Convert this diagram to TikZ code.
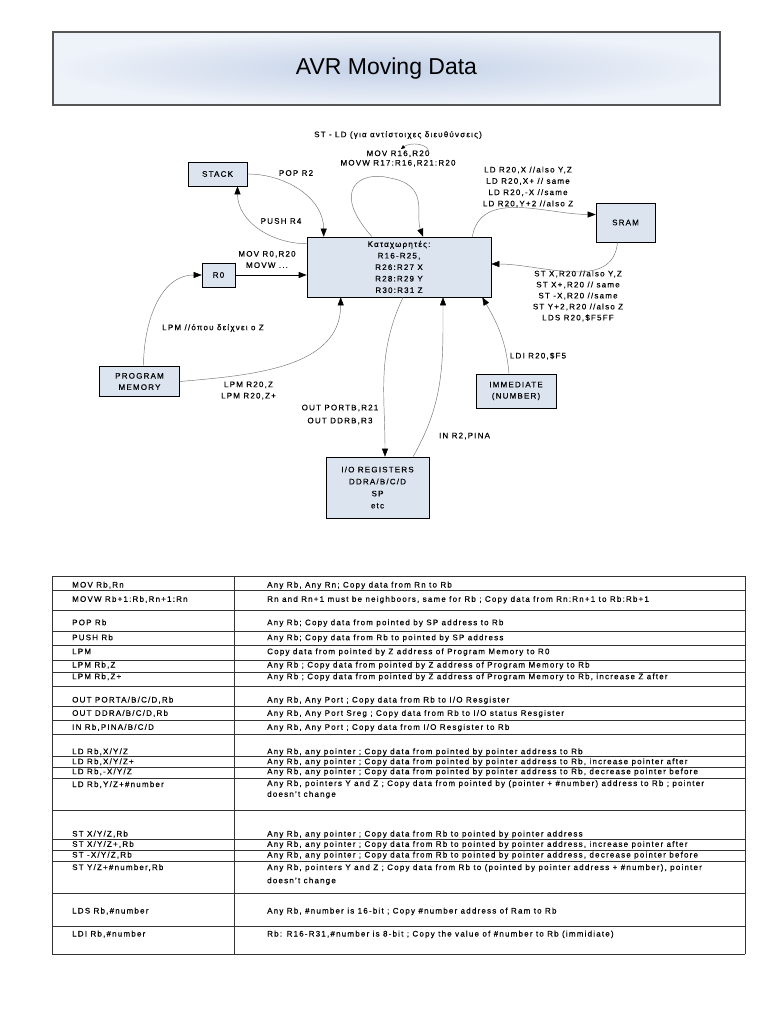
\documentclass[tikz,border=0pt]{standalone}
\usepackage{fontspec}
\setmainfont{Liberation Sans}[LetterSpace=15,FakeBold=0.35]
\newfontfamily\titlefont{Liberation Sans}
\usetikzlibrary{arrows.meta}
\definecolor{boxfill}{HTML}{DCE4F0}
\definecolor{titlein}{HTML}{C3D1E7}
\definecolor{titleout}{HTML}{EEF2F9}
\definecolor{frame}{HTML}{555555}
\newcommand{\lblfont}{\fontsize{8}{11.3}\selectfont}

\begin{document}
\begin{tikzpicture}[x=1pt,y=1pt,
    box/.style={draw=black,fill=boxfill,line width=0.6pt,inner sep=0pt,
        align=center,font=\lblfont},
    lbl/.style={inner sep=0pt,align=center,font=\lblfont},
    flow/.style={draw=black!55,line width=0.45pt,
        -{Triangle[length=8pt,width=6pt,color=black]}},
    tline/.style={draw=black!80,line width=0.75pt},
    cell/.style={anchor=base west,inner sep=0pt,font=\fontsize{8}{9}\selectfont}
]
\fill[white] (0,0) rectangle (768,-1024);
\useasboundingbox (0,0) rectangle (768,-1024);

% title
\node[draw=frame,line width=1.2pt,inner color=titlein,outer color=titleout,
    minimum width=667pt,minimum height=73pt,
    font=\titlefont\fontsize{23}{26}\selectfont] (title) at (386.5,-68.5)
    {AVR Moving Data};

% blocks
\node[box,minimum width=59pt,minimum height=24pt] (stack) at (217.5,-174) {STACK};
\node[box,minimum width=184pt,minimum height=60pt,font=\fontsize{8}{11.5}\selectfont]
    (regs) at (399,-267)
    {Καταχωρητές:\\R16-R25,\\R26:R27 X\\R28:R29 Y\\R30:R31 Z};
\node[box,minimum width=59pt,minimum height=39pt] (sram) at (625.5,-222.5) {SRAM};
\node[box,minimum width=33pt,minimum height=24pt] (r0) at (218.5,-275) {R0};
\node[box,minimum width=80pt,minimum height=30pt] (progmem) at (139.5,-381.5)
    {PROGRAM\\MEMORY};
\node[box,minimum width=80pt,minimum height=34pt] (imm) at (516,-391)
    {IMMEDIATE\\(NUMBER)};
\node[box,minimum width=103pt,minimum height=61pt,font=\fontsize{8}{12}\selectfont]
    (io) at (377.5,-487.5) {I/O REGISTERS\\DDRA/B/C/D\\SP\\etc};

% labels
\node[lbl] (stld) at (398,-135) {ST - LD (για αντίστοιχες διευθύνσεις)};
\node[lbl,font=\fontsize{8}{9.5}\selectfont] (movlbl) at (398,-158.5)
    {MOV R16,R20\\MOVW R17:R16,R21:R20};
\node[lbl] (poplbl) at (296,-173) {POP R2};
\node[lbl] (pushlbl) at (281,-221) {PUSH R4};
\node[lbl] (movr0lbl) at (267,-259.5) {MOV R0,R20\\MOVW ...};
\node[lbl] (ldlbl) at (528,-187)
    {LD R20,X //also Y,Z\\LD R20,X+ // same\\LD R20,-X //same\\LD R20,Y+2 //also Z};
\node[lbl,font=\fontsize{8}{11}\selectfont] (stlbl) at (578,-296)
    {ST X,R20 //also Y,Z\\ST X+,R20 // same\\ST -X,R20 //same\\ST Y+2,R20 //also Z\\LDS R20,\$F5FF};
\node[lbl] (lpmlbl) at (213,-328) {LPM //όπου δείχνει ο Z};
\node[lbl] (lpmzlbl) at (248.5,-390.5) {LPM R20,Z\\LPM R20,Z+};
\node[lbl,font=\fontsize{8}{13}\selectfont] (outlbl) at (340,-414.5)
    {OUT PORTB,R21\\OUT DDRB,R3};
\node[lbl] (inlbl) at (464.5,-436) {IN R2,PINA};
\node[lbl] (ldilbl) at (538,-356) {LDI R20,\$F5};

% connectors
\draw[flow] (stack.east) to[out=0,in=90] ([xshift=17pt]regs.north west);
\draw[flow] ([yshift=-7pt]regs.north west) to[out=180,in=-90] ([xshift=20pt]stack.south);
\draw[flow] ([xshift=-27pt]regs.north) .. controls (330,-190) and (360,-170) .. (390,-178)
    .. controls (430,-185) and (415,-215) .. ([xshift=24pt]regs.north);
\coordinate (arcA) at (429,-153);
\coordinate (arcB) at (401,-149);
\draw[flow,-{Triangle[length=4pt,width=3.5pt,color=black]}]
    (arcA) .. controls (429,-143) and (410,-142) .. (arcB);
\draw[flow] ([xshift=-19pt]regs.north east) to[out=80,in=180] ([yshift=8pt]sram.west);
\draw[flow] ([xshift=-8pt]sram.south) to[out=-95,in=0] ([yshift=3pt]regs.east);
\draw[line width=1pt,-{Triangle[length=8pt,width=6pt]}] (r0.east) -- (r0.east -| regs.west);
\draw[flow] ([xshift=4pt]progmem.north) to[out=90,in=180] (r0.west);
\draw[flow] (progmem.east) to[out=5,in=-90] ([xshift=34pt]regs.south west);
\draw[flow] ([xshift=4pt]regs.south) to[out=-115,in=90] ([xshift=7.5pt]io.north);
\draw[flow] ([xshift=35.5pt]io.north) to[out=60,in=-90] ([xshift=44pt]regs.south);
\draw[flow] ([xshift=-7pt]imm.north) to[out=95,in=-60] ([xshift=-9pt]regs.south east);

% table grid
\foreach \y in {576,590.7,610,631,645,660,672.3,686,706.7,720.7,734.3,756.7,
    767.3,778.3,810,839,850,861,893.3,926.7,954}
    \draw[tline] (52,-\y) -- (745,-\y);
\foreach \x in {52,234,745}
    \draw[tline] (\x,-576) -- (\x,-954);

% table text
\foreach \y/\txt [count=\i] in {587.5/{MOV Rb,Rn},601.8/{MOVW Rb+1:Rb,Rn+1:Rn},
    625.2/{POP Rb},640.2/{PUSH Rb},654.2/{LPM},667.5/{LPM Rb,Z},679.2/{LPM Rb,Z+},
    702.5/{OUT PORTA/B/C/D,Rb},715.8/{OUT DDRA/B/C/D,Rb},729.8/{IN Rb,PINA/B/C/D},
    754.2/{LD Rb,X/Y/Z},764.2/{LD Rb,X/Y/Z+},774.2/{LD Rb,-X/Y/Z},
    787/{LD Rb,Y/Z+\#number},836.5/{ST X/Y/Z,Rb},846.8/{ST X/Y/Z+,Rb},
    857.5/{ST -X/Y/Z,Rb},870/{ST Y/Z+\#number,Rb},913.5/{LDS Rb,\#number},
    936.5/{LDI Rb,\#number}}
    \node[cell] (cmd\i) at (72,-\y) {\txt};
\foreach \y/\txt [count=\i] in {587.5/{Any Rb, Any Rn; Copy data from Rn to Rb},
    601.8/{Rn and Rn+1 must be neighboors, same for Rb ; Copy data from Rn:Rn+1 to Rb:Rb+1},
    625.2/{Any Rb; Copy data from pointed by SP address to Rb},
    640.2/{Any Rb; Copy data from Rb to pointed by SP address},
    654.2/{Copy data from pointed by Z address of Program Memory to R0},
    667.5/{Any Rb ; Copy data from pointed by Z address of Program Memory to Rb},
    679.2/{Any Rb ; Copy data from pointed by Z address of Program Memory to Rb, increase Z after},
    702.5/{Any Rb, Any Port ; Copy data from Rb to I/O Resgister},
    715.8/{Any Rb, Any Port Sreg ; Copy data from Rb to I/O status Resgister},
    729.8/{Any Rb, Any Port ; Copy data from I/O Resgister to Rb},
    754.2/{Any Rb, any pointer ; Copy data from pointed by pointer address to Rb},
    764.2/{Any Rb, any pointer ; Copy data from pointed by pointer address to Rb, increase pointer after},
    774.2/{Any Rb, any pointer ; Copy data from pointed by pointer address to Rb, decrease pointer before},
    786/{Any Rb, pointers Y and Z ; Copy data from pointed by (pointer + \#number) address to Rb ; pointer},
    796.8/{doesn't change},
    836.5/{Any Rb, any pointer ; Copy data from Rb to pointed by pointer address},
    846.8/{Any Rb, any pointer ; Copy data from Rb to pointed by pointer address, increase pointer after},
    857.5/{Any Rb, any pointer ; Copy data from Rb to pointed by pointer address, decrease pointer before},
    870/{Any Rb, pointers Y and Z ; Copy data from Rb to (pointed by pointer address + \#number), pointer},
    883.2/{doesn't change},
    913.5/{Any Rb, \#number is 16-bit ; Copy \#number address of Ram to Rb},
    936.5/{Rb: R16-R31,\#number is 8-bit ; Copy the value of \#number to Rb (immidiate)}}
    \node[cell] (desc\i) at (267,-\y) {\txt};
\end{tikzpicture}
\end{document}
